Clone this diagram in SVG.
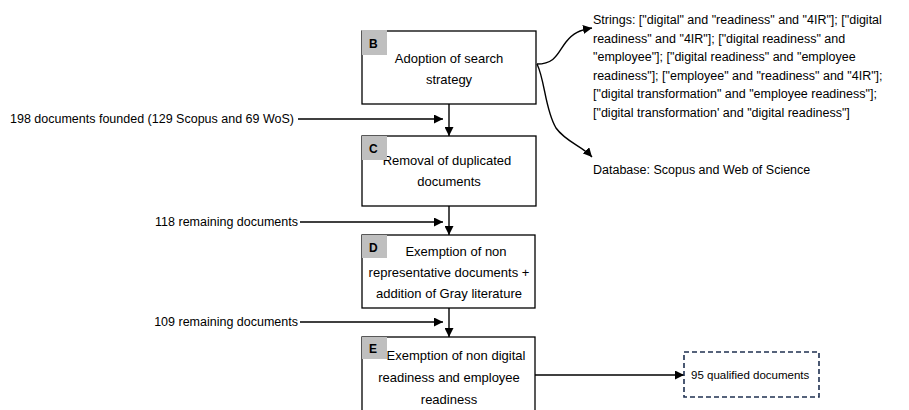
<svg xmlns="http://www.w3.org/2000/svg" width="909" height="410" viewBox="0 0 909 410">
<defs>
<marker id="ah" viewBox="0 0 10 10" refX="10" refY="5" markerWidth="9" markerHeight="9" markerUnits="userSpaceOnUse" orient="auto">
<path d="M0,0 L10,5 L0,10 z" fill="#000"/>
</marker>
<style>
text{font-family:"Liberation Sans",Arial,sans-serif;fill:#000}
.bx{fill:#fff;stroke:#000;stroke-width:1.3}
.tag{fill:#bfbfbf}
.lt{font-size:12px;font-weight:bold}
.t{font-size:13px;text-anchor:middle}
.s{font-size:12.5px}
.q{font-size:11.5px}
.ln{fill:none;stroke:#000;stroke-width:1.4}
</style>
</defs>
<rect width="909" height="410" fill="#fff"/>
<g id="connectors">
<path class="ln" d="M449,104 V136" marker-end="url(#ah)"/>
<path class="ln" d="M298,119 H443" marker-end="url(#ah)"/>
<path class="ln" d="M449,206 V235" marker-end="url(#ah)"/>
<path class="ln" d="M300,222 H443" marker-end="url(#ah)"/>
<path class="ln" d="M449,308 V337" marker-end="url(#ah)"/>
<path class="ln" d="M300,322 H443" marker-end="url(#ah)"/>
<path class="ln" d="M535,375 H684" marker-end="url(#ah)"/>
<path class="ln" d="M537,64 C556,64 558,52 566,42 C573,33 580,30 592,28" marker-end="url(#ah)"/>
<path class="ln" d="M537,64 C545,80 545,110 556,128 C566,142 582,146 592,157" marker-end="url(#ah)"/>
</g>
<g id="B">
<rect class="bx" x="362" y="31" width="174" height="73"/>
<rect class="tag" x="362" y="30" width="25" height="25"/>
<text class="lt" x="369" y="48">B</text>
<text class="t" x="449" y="63">Adoption of search</text>
<text class="t" x="449" y="84">strategy</text>
</g>
<g id="C">
<rect class="bx" x="362" y="136" width="174" height="70"/>
<text class="t" x="447" y="165">Removal of duplicated</text>
<text class="t" x="449" y="186">documents</text>
<rect class="tag" x="362" y="136" width="25" height="24"/>
<text class="lt" x="369" y="153">C</text>
</g>
<g id="D">
<rect class="bx" x="362" y="235" width="173" height="73"/>
<rect class="tag" x="362" y="235" width="25" height="23"/>
<text class="lt" x="369" y="252">D</text>
<text class="t" x="456" y="256">Exemption of non</text>
<text class="t" x="449" y="277">representative documents +</text>
<text class="t" x="449" y="298">addition of Gray literature</text>
</g>
<g id="E">
<rect class="bx" x="362" y="337" width="173" height="85"/>
<rect class="tag" x="362" y="337" width="25" height="22"/>
<text class="lt" x="369" y="353">E</text>
<text class="t" x="456" y="360">Exemption of non digital</text>
<text class="t" x="449" y="382">readiness and employee</text>
<text class="t" x="449" y="404">readiness</text>
</g>
<g id="F">
<rect x="684" y="352" width="135" height="45" fill="#fff" stroke="#1f3050" stroke-width="1.6" stroke-dasharray="5,3"/>
<text class="q" x="691" y="379">95 qualified documents</text>
</g>
<g id="labels">
<text class="s" x="10" y="123">198 documents founded (129 Scopus and 69 WoS)</text>
<text class="s" x="298" y="226" text-anchor="end">118 remaining documents</text>
<text class="s" x="298" y="326" text-anchor="end">109 remaining documents</text>
</g>
<g id="strings">
<text class="s" x="593" y="24">Strings: ["digital" and "readiness" and "4IR"]; ["digital</text>
<text class="s" x="593" y="43">readiness" and "4IR"];  ["digital readiness" and</text>
<text class="s" x="593" y="61">"employee"]; ["digital readiness" and "employee</text>
<text class="s" x="593" y="80">readiness"];  ["employee" and "readiness" and "4IR"];</text>
<text class="s" x="593" y="98">["digital transformation" and "employee readiness"];</text>
<text class="s" x="593" y="117">["digital transformation' and "digital readiness"]</text>
</g>
<g id="database">
<text class="s" x="593" y="174">Database: Scopus and Web of Science</text>
</g>
</svg>
